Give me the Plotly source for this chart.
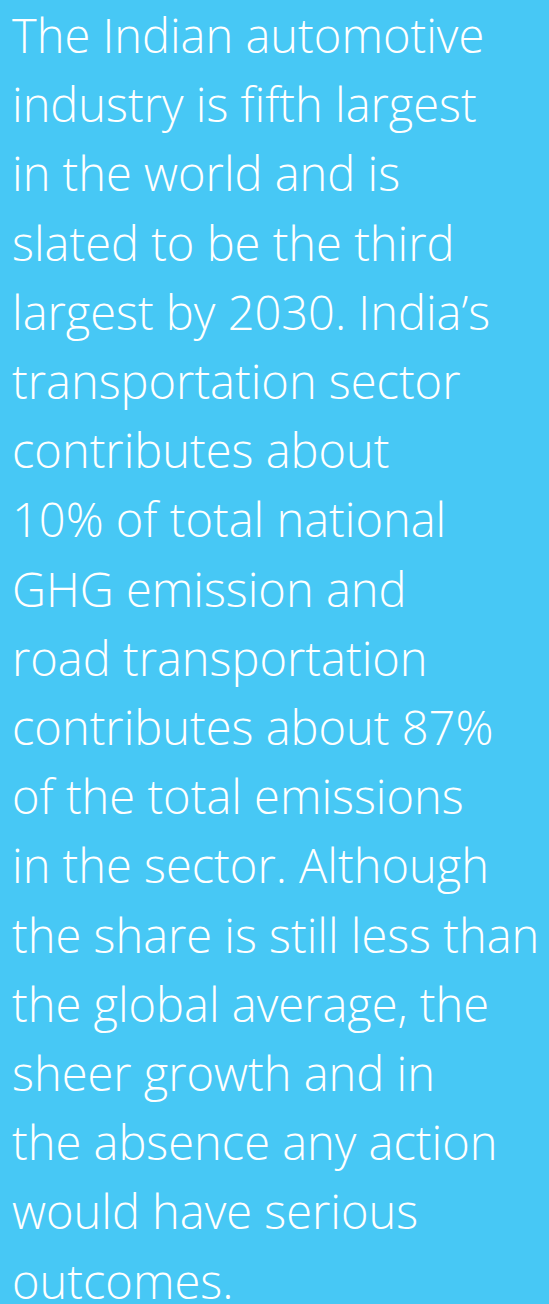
import plotly.graph_objects as go

lines = [
    "The Indian automotive",
    "industry is fifth largest",
    "in the world and is",
    "slated to be the third",
    "largest by 2030. India’s",
    "transportation sector",
    "contributes about",
    "10% of total national",
    "GHG emission and",
    "road transportation",
    "contributes about 87%",
    "of the total emissions",
    "in the sector. Although",
    "the share is still less than",
    "the global average, the",
    "sheer growth and in",
    "the absence any action",
    "would have serious",
    "outcomes.",
]

W, H = 549, 1304
BG = "#47C8F5"
first_baseline = 52
step = 69.2
font_size = 47

fig = go.Figure()
for i, t in enumerate(lines):
    baseline = first_baseline + i * step
    ymid = baseline - font_size * 0.36
    fig.add_annotation(
        x=10 / W, y=1 - ymid / H, xref="paper", yref="paper",
        xanchor="left", yanchor="middle", showarrow=False,
        text=t,
        font=dict(family="Open Sans", size=font_size, color="white", weight=300),
    )

fig.update_layout(
    width=W, height=H, margin=dict(l=0, r=0, t=0, b=0),
    paper_bgcolor=BG, plot_bgcolor=BG,
    xaxis=dict(visible=False), yaxis=dict(visible=False),
    showlegend=False,
)
fig.write_html(
    "out.html",
    config={"displayModeBar": False},
    post_script="document.body.style.margin='0';document.body.style.background='%s';" % BG,
)
